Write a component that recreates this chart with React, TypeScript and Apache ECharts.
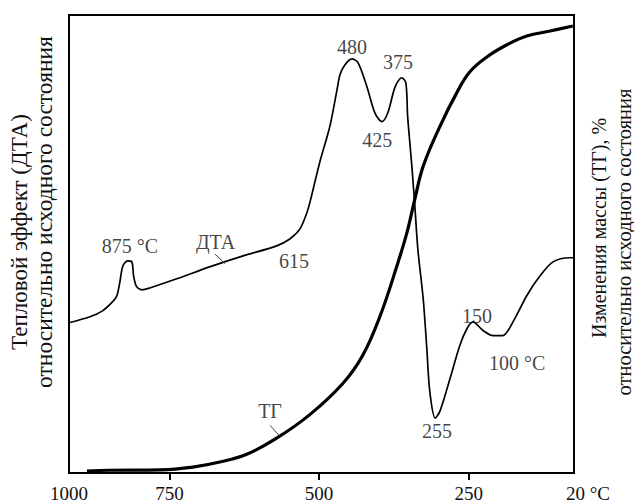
import React, { useEffect, useRef } from "react";
import * as echarts from "echarts";

// x: temperature (°C) read against the 750/500/250 ticks; y: relative units (0 = frame bottom, 100 = frame top)
const X_LEFT = 918; // value at the left edge of the frame (labelled "1000")
const X_RIGHT = 74; // value at the right edge of the frame (labelled "20 °C")
const X_TICKS = [750, 500, 250];
const LEFT_END_LABEL = "1000";
const RIGHT_END_LABEL = "20 °C";

const DTA_POINTS: number[][] = [
  [918, 32.8], [883, 34.1], [862, 35.4], [845, 37.4], [838, 38.7], [833, 41.7],
  [828, 45.2], [820, 46.3], [813, 46.1], [810, 43.0], [805, 40.7], [796, 40.0],
  [783, 40.4], [738, 42.4], [683, 45.0], [627, 47.4], [571, 49.6], [549, 51.1],
  [532, 53.3], [520, 57.0], [514, 59.8], [499, 67.8], [482, 75.7], [470, 83.7],
  [465, 87.0], [457, 89.1], [445, 90.4], [435, 89.6], [420, 84.3], [407, 78.7],
  [395, 76.7], [385, 78.7], [373, 84.3], [362, 86.3], [355, 85.2], [352, 77.8],
  [345, 67.0], [340, 58.3], [335, 48.9], [326, 38.0], [320, 27.2], [315, 17.8],
  [306, 12.0], [298, 13.5], [281, 20.7], [265, 27.8], [253, 31.5], [243, 33.0],
  [226, 31.1], [209, 30.0], [193, 30.0], [176, 33.0], [153, 38.7], [131, 43.0],
  [109, 46.1], [81, 47.0], [74, 47.0],
];

const TG_POINTS: number[][] = [
  [888, 0.4], [850, 0.6], [766, 0.7], [711, 1.3], [666, 2.4], [621, 4.1],
  [571, 7.6], [515, 12.8], [460, 19.6], [427, 25.7], [398, 34.3],
  [370, 45.2], [353, 52.6], [340, 59.8], [326, 67.0], [298, 75.7], [270, 83.0],
  [248, 87.6], [219, 90.9], [186, 93.5], [153, 95.4], [114, 96.5], [76, 97.6],
];

const ANNOTATIONS: (number | string)[][] = [
  [816, 49.6, "875 °C"],
  [673, 50.4, "ДТА"],
  [542, 46.3, "615"],
  [445, 93.0, "480"],
  [368, 89.8, "375"],
  [403, 72.8, "425"],
  [303, 9.1, "255"],
  [236, 34.3, "150"],
  [169, 24.1, "100 °C"],
  [582, 13.5, "ТГ"],
];

const LEADER_DTA: number[][] = [[674, 47.8], [657, 45.7]];
const LEADER_TG: number[][] = [[582, 10.4], [566, 8.1]];

const LEFT_TITLE = ["Тепловой эффект (ДТА)", "относительно исходного состояния"];
const RIGHT_TITLE = ["Изменения массы (ТГ), %", "относительно исходного состояния"];

const FONT = '"Liberation Serif", "Times New Roman", serif';

export default function App() {
  const ref = useRef<HTMLDivElement>(null);

  useEffect(() => {
    if (!ref.current) return;
    const chart = echarts.init(ref.current, null, { renderer: "svg" });

    const title = (text: string, x: number, y: number, size: number) => ({
      type: "text",
      x,
      y,
      rotation: Math.PI / 2,
      style: { text, font: `${size}px ${FONT}`, fill: "#111", align: "center", verticalAlign: "middle" },
    });

    chart.setOption({
      animation: false,
      backgroundColor: "#fff",
      grid: {
        left: 69,
        right: 60,
        top: 15,
        bottom: 28,
        show: true,
        borderColor: "#000",
        borderWidth: 2,
        backgroundColor: "transparent",
      },
      xAxis: {
        type: "value",
        min: X_RIGHT,
        max: X_LEFT,
        inverse: true,
        axisLine: { show: true, lineStyle: { color: "#000", width: 2 } },
        axisTick: {
          show: true,
          inside: false,
          length: 7,
          customValues: X_TICKS,
          lineStyle: { color: "#000", width: 2 },
        },
        axisLabel: {
          show: true,
          customValues: [X_LEFT, ...X_TICKS, X_RIGHT],
          margin: 11,
          fontFamily: FONT,
          fontSize: 19,
          color: "#111",
          formatter: (v: number) =>
            v === X_LEFT ? LEFT_END_LABEL : v === X_RIGHT ? `{end|${RIGHT_END_LABEL}}` : String(v),
          rich: {
            end: { fontFamily: FONT, fontSize: 19, color: "#111", padding: [0, 0, 0, 28] },
          },
        },
        splitLine: { show: false },
      },
      yAxis: [
        { type: "value", min: 0, max: 100, show: false },
        { type: "value", min: 0, max: 100, show: false },
      ],
      series: [
        {
          name: "ДТА",
          type: "line",
          data: DTA_POINTS,
          showSymbol: false,
          smooth: 0.3,
          lineStyle: { color: "#000", width: 1.7 },
          silent: true,
        },
        {
          name: "ТГ",
          type: "line",
          yAxisIndex: 1,
          data: TG_POINTS,
          showSymbol: false,
          smooth: 0.4,
          lineStyle: { color: "#000", width: 3.2 },
          silent: true,
        },
        {
          type: "line",
          data: LEADER_DTA,
          showSymbol: false,
          lineStyle: { color: "#444", width: 1 },
          silent: true,
        },
        {
          type: "line",
          data: LEADER_TG,
          showSymbol: false,
          lineStyle: { color: "#444", width: 1 },
          silent: true,
        },
        {
          type: "scatter",
          data: ANNOTATIONS,
          symbolSize: 1,
          itemStyle: { color: "transparent" },
          silent: true,
          label: {
            show: true,
            position: "inside",
            formatter: (p: any) => String(p.data[2]),
            fontFamily: FONT,
            color: "#111",
            fontSize: 20,
          },
        },
      ],
      graphic: [
        title(LEFT_TITLE[0], 19, 232, 23),
        title(LEFT_TITLE[1], 44, 212, 23.5),
        title(RIGHT_TITLE[0], 599, 228, 20),
        title(RIGHT_TITLE[1], 624, 242, 20.5),
      ],
    });

    return () => chart.dispose();
  }, []);

  return (
    <div
      ref={ref}
      style={{ position: "absolute", left: 0, top: 0, width: 634, height: 503, background: "#fff" }}
    />
  );
}
